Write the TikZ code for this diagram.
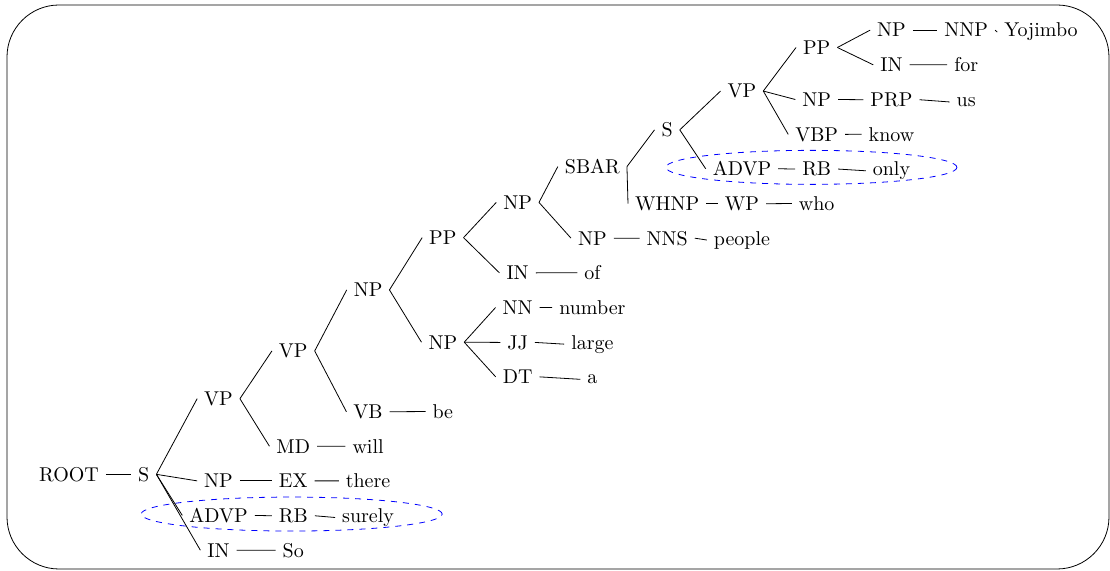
\documentclass[tikz,border=0pt]{standalone}
\usepackage{tikz}
\usetikzlibrary{calc}
\usetikzlibrary{shapes}
\usetikzlibrary{shapes.geometric}
\tikzset{>=latex}
\tikzstyle{tag} = [anchor=base, inner sep=.3333em]
\tikzstyle{hl} = [ellipse, dashed, draw=blue, inner sep=0pt]

\begin{document}
\begin{tikzpicture}[x=37.385pt, y=-17.335pt]
\useasboundingbox (-0.9228, -1.0672) rectangle (13.9227, 15.4024);
\draw [rounded corners=26pt] (-0.8292, -0.923) rectangle (13.9093, 15.3447);

\node [tag] (ROOT) at (0, 12.8115) {ROOT};
\node [tag] (S1) at (1, 12.8115) {S};
\node [tag] (VP2) at (2, 10.623) {VP};
\node [tag] (NP2) at (2, 13) {NP};
\node [tag] (ADVP2) at (2, 14) {ADVP};
\node [tag] (IN2) at (2, 15) {IN};
\node [tag] (EX3) at (3, 13) {EX};
\node [tag] (RB3) at (3, 14) {RB};
\node [tag] (so) at (3, 15) {So};
\node [tag] (there) at (4, 13) {there};
\node [tag] (surely) at (4, 14) {surely};
\node [tag] (VP3) at (3, 9.2461) {VP};
\node [tag] (MD3) at (3, 12) {MD};
\node [tag] (will) at (4, 12) {will};
\node [tag] (NP4) at (4, 7.4922) {NP};
\node [tag] (VB4) at (4, 11) {VB};
\node [tag] (be) at (5, 11) {be};
\node [tag] (PP5) at (5, 5.9844) {PP};
\node [tag] (NP5) at (5, 9) {NP};
\node [tag] (NN6) at (6, 8) {NN};
\node [tag] (JJ6) at (6, 9) {JJ};
\node [tag] (DT6) at (6, 10) {DT};
\node [tag] (number) at (7, 8) {number};
\node [tag] (large) at (7, 9) {large};
\node [tag] (a) at (7, 10) {a};
\node [tag] (NP6) at (6, 4.9688) {NP};
\node [tag] (IN6) at (6, 7) {IN};
\node [tag] (of) at (7, 7) {of};
\node [tag] (SBAR7) at (7, 3.9375) {SBAR};
\node [tag] (NP7) at (7, 6) {NP};
\node [tag] (NNS8) at (8, 6) {NNS};
\node [tag] (people) at (9, 6) {people};
\node [tag] (S8) at (8, 2.875) {S};
\node [tag] (WHNP8) at (8, 5) {WHNP};
\node [tag] (WP9) at (9, 5) {WP};
\node [tag] (who) at (10, 5) {who};
\node [tag] (VP9) at (9, 1.75) {VP};
\node [tag] (ADVP9) at (9, 4) {ADVP};
\node [tag] (RB10) at (10, 4) {RB};
\node [tag] (only) at (11, 4) {only};
\node [tag] (PP10) at (10, 0.5) {PP};
\node [tag] (NP10) at (10, 2) {NP};
\node [tag] (VBP10) at (10, 3) {VBP};
\node [tag] (PRP11) at (11, 2) {PRP};
\node [tag] (us) at (12, 2) {us};
\node [tag] (know) at (11, 3) {know};
\node [tag] (NP11) at (11, 0) {NP};
\node [tag] (IN11) at (11, 1) {IN};
\node [tag] (NNP12) at (12, 0) {NNP};
\node [tag] (for) at (12, 1) {for};
\node [tag] (Yojimbo) at (13, 0) {Yojimbo};

\node [hl, minimum width=150.5pt, minimum height=17pt, yshift=1.2pt] (ringA) at ($(ADVP2.west)!.5!(surely.east)$) {};
\node [hl, minimum width=145.5pt, minimum height=17pt, yshift=1.2pt] (ringB) at ($(ADVP9.west)!.5!(only.east)$) {};

\draw (ROOT.east) -- (S1.west);
\draw (S1.east) -- (VP2.west);
\draw (S1.east) -- (NP2.west);
\draw (S1.east) -- (ADVP2.west);
\draw (S1.east) -- (IN2.west);
\draw (NP2.east) -- (EX3.west);
\draw (EX3.east) -- (there.west);
\draw (ADVP2.east) -- (RB3.west);
\draw (RB3.east) -- (surely.west);
\draw (IN2.east) -- (so.west);
\draw (VP2.east) -- (VP3.west);
\draw (VP2.east) -- (MD3.west);
\draw (MD3.east) -- (will.west);
\draw (VP3.east) -- (NP4.west);
\draw (VP3.east) -- (VB4.west);
\draw (VB4.east) -- (be.west);
\draw (NP4.east) -- (PP5.west);
\draw (NP4.east) -- (NP5.west);
\draw (NP5.east) -- (NN6.west);
\draw (NP5.east) -- (JJ6.west);
\draw (NP5.east) -- (DT6.west);
\draw (NN6.east) -- (number.west);
\draw (JJ6.east) -- (large.west);
\draw (DT6.east) -- (a.west);
\draw (PP5.east) -- (NP6.west);
\draw (PP5.east) -- (IN6.west);
\draw (IN6.east) -- (of.west);
\draw (NP6.east) -- (SBAR7.west);
\draw (NP6.east) -- (NP7.west);
\draw (NP7.east) -- (NNS8.west);
\draw (NNS8.east) -- (people.west);
\draw (SBAR7.east) -- (S8.west);
\draw (SBAR7.east) -- (WHNP8.west);
\draw (WHNP8.east) -- (WP9.west);
\draw (WP9.east) -- (who.west);
\draw (S8.east) -- (VP9.west);
\draw (S8.east) -- (ADVP9.west);
\draw (ADVP9.east) -- (RB10.west);
\draw (RB10.east) -- (only.west);
\draw (VP9.east) -- (PP10.west);
\draw (VP9.east) -- (NP10.west);
\draw (VP9.east) -- (VBP10.west);
\draw (NP10.east) -- (PRP11.west);
\draw (PRP11.east) -- (us.west);
\draw (VBP10.east) -- (know.west);
\draw (PP10.east) -- (NP11.west);
\draw (PP10.east) -- (IN11.west);
\draw (NP11.east) -- (NNP12.west);
\draw (NNP12.east) -- (Yojimbo.west);
\draw (IN11.east) -- (for.west);
\end{tikzpicture}
\end{document}
